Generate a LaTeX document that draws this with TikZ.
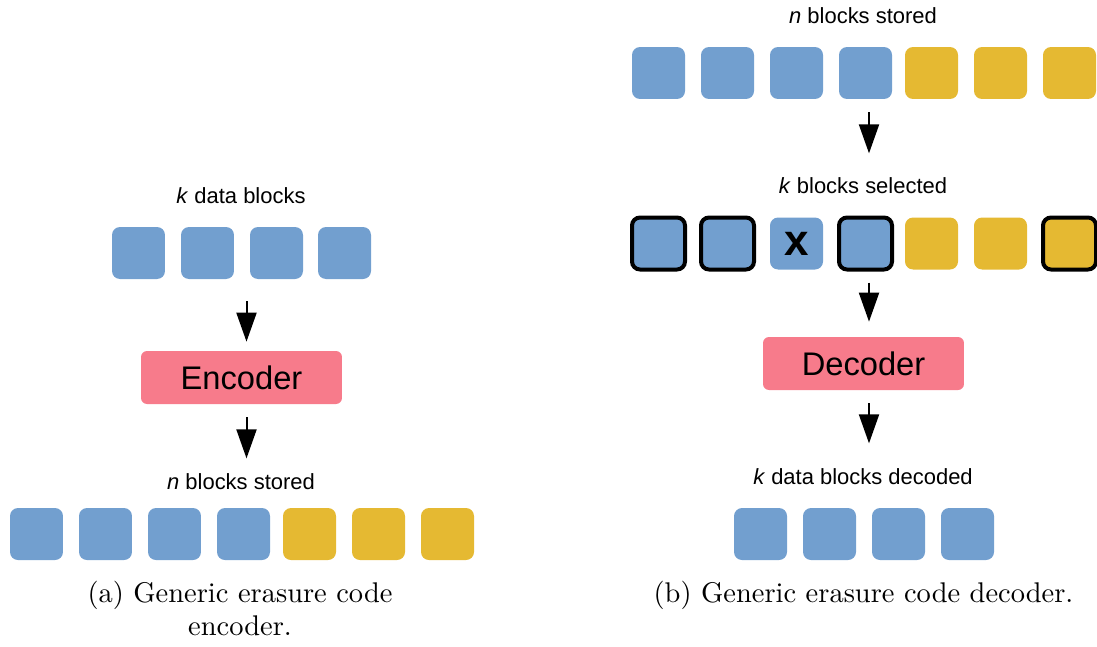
\documentclass[tikz,border=0pt]{standalone}
\usepackage{fontspec}
\usepackage{tikz}
\usetikzlibrary{arrows.meta}
\usetikzlibrary{calc}
\newfontfamily\labelfont{Liberation Sans}
\newfontfamily\capfont{lmroman10-regular.otf}
\tikzset{blk/.style = {rounded corners = 0.16cm, inner sep = 0, minimum width = 1.06cm, minimum height = 1.04cm}}
\tikzset{sel/.style = {draw = black, line width = 0.08cm}}
\tikzset{coder/.style = {fill = mpink, rounded corners = 0.12cm, inner sep = 0, minimum width = 4.02cm, minimum height = 1.06cm, font = \labelfont\fontsize{18.6}{22}\selectfont}}
\tikzset{lbl/.style = {inner sep = 0, font = \labelfont\fontsize{12.5}{15}\selectfont}}
\tikzset{captxt/.style = {inner sep = 0, align = center, anchor = north, font = \capfont\fontsize{16.2}{18.7}\selectfont}}
\tikzset{flow/.style = {line width = 0.04cm, -{Triangle[length = 0.58cm, width = 0.4cm]}}}
\definecolor{mblue}{RGB}{114, 159, 207}
\definecolor{myellow}{RGB}{229, 185, 50}
\definecolor{mpink}{RGB}{247, 123, 139}

\begin{document}
\begin{tikzpicture}[x = 0.02cm, y = -0.02cm]
    \useasboundingbox (0, 0) rectangle (1097, 646);
    % encoder
    \node [lbl] (kin) at (241, 196) {\textit{k} data blocks};
    \foreach \i/\x in {1/138.5, 2/207.5, 3/276.5, 4/344.5}
      \node [blk, fill = mblue] (d\i) at (\x, 253) {};
    \node [coder] (enc) at (241.5, 377.5) {Encoder};
    \draw [flow] ($(enc.north |- d1.south) + (5, 22)$) -- ($(enc.north) + (5, -9)$);
    \draw [flow] ($(enc.south) + (5, 13)$) -- ($(enc.south) + (5, 54)$);
    \node [lbl] (nout) at (241, 482) {\textit{n} blocks stored};
    \foreach \i/\x in {1/36.5, 2/105.5, 3/174.5, 4/243.5}
      \node [blk, fill = mblue] (s\i) at (\x, 534) {};
    \foreach \i/\x in {5/309.5, 6/378.5, 7/447.5}
      \node [blk, fill = myellow] (s\i) at (\x, 534) {};
    \node [captxt] (capa) at (240, 581) {(a) Generic erasure code\\encoder.};
    % decoder
    \node [lbl] (nin) at (863, 16) {\textit{n} blocks stored};
    \foreach \i/\x in {1/658.5, 2/727.5, 3/796.5, 4/865.5}
      \node [blk, fill = mblue] (t\i) at (\x, 73) {};
    \foreach \i/\x in {5/931.5, 6/1000.5, 7/1069.5}
      \node [blk, fill = myellow] (t\i) at (\x, 73) {};
    \node [coder] (dec) at (863.5, 363.5) {Decoder};
    \draw [flow] ($(dec.north |- t1.south) + (5.5, 13)$) -- ($(dec.north |- t1.south) + (5.5, 54)$);
    \node [lbl] (ksel) at (863, 186) {\textit{k} blocks selected};
    \foreach \i/\x in {1/658.5, 2/727.5, 4/865.5}
      \node [blk, sel, fill = mblue] (c\i) at (\x, 243.5) {};
    \node [blk, fill = mblue] (c3) at (796.5, 243.5) {};
    \node [blk, fill = myellow] (c5) at (931.5, 243.5) {};
    \node [blk, fill = myellow] (c6) at (1000.5, 243.5) {};
    \node [blk, sel, fill = myellow] (c7) at (1069.5, 243.5) {};
    \node [inner sep = 0, font = \labelfont\bfseries\fontsize{25}{30}\selectfont] (lost) at (c3) {x};
    \draw [flow] ($(dec.north) + (5.5, -54)$) -- ($(dec.north) + (5.5, -15)$);
    \draw [flow] ($(dec.south) + (5.5, 13)$) -- ($(dec.south) + (5.5, 53)$);
    \node [lbl] (kout) at (863, 477) {\textit{k} data blocks decoded};
    \foreach \i/\x in {1/760.5, 2/829.5, 3/898.5, 4/967.5}
      \node [blk, fill = mblue] (o\i) at (\x, 534) {};
    \node [captxt] (capb) at (863.5, 581) {(b) Generic erasure code decoder.};
  \end{tikzpicture}
\end{document}
